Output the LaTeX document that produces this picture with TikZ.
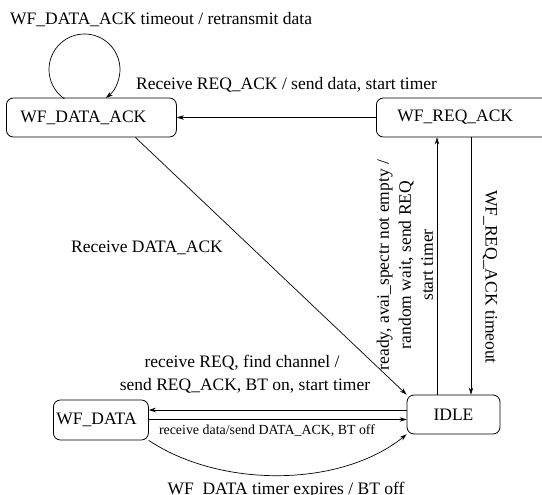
\documentclass[tikz,border=0pt]{standalone}
\usepackage{fontspec}
\setmainfont{Liberation Serif}
\usetikzlibrary{arrows.meta}
\begin{document}
\begin{tikzpicture}[x=1pt,y=-1pt,
  lbl/.style={font=\fontsize{17.5}{22}\selectfont, inner sep=0pt},
  small/.style={font=\fontsize{13.9}{16}\selectfont, inner sep=0pt},
  state/.style={draw, rounded corners=7pt, line width=0.8pt, font=\fontsize{17.5}{22}\selectfont, minimum height=39pt, align=left},
  arr/.style={line width=0.7pt, -{Stealth[length=7pt,width=4.5pt]}},
  ln/.style={line width=0.7pt}]
\useasboundingbox (0,0) rectangle (542,495);
% states
\node[state, anchor=west, text width=142pt, inner xsep=14pt] (dataack) at (6,117.5) {WF\_DATA\_ACK};
\node[state, anchor=west, text width=142pt, inner xsep=21pt] (reqack) at (376,117.5) {WF\_REQ\_ACK};
\node[state, minimum width=93pt, inner xsep=3pt] (idle) at (453.5,414.5) {IDLE};
\node[state, anchor=west, text width=89pt, inner xsep=3pt, minimum height=40pt] (wfdata) at (53,420) {WF\_DATA};
% transitions
\draw[arr] (reqack.west) -- (dataack.east);
\coordinate (lc) at (84.5,69.5);
\draw[arr] (lc) ++(235.6:35.5pt) arc[start angle=235.6, end angle=-53, radius=35.5pt];
\draw[arr] ([xshift=44pt]dataack.south) -- (idle.north west);
\draw[arr] ([xshift=-16.5pt]idle.north) -- ([xshift=-16.5pt]idle.north |- reqack.south);
\draw[arr] ([xshift=17.5pt]idle.north |- reqack.south) -- ([xshift=17.5pt]idle.north);
\draw[arr] ([yshift=4.5pt]idle.west) -- ([yshift=4.5pt]idle.west -| wfdata.east);
\draw[arr] ([yshift=-5pt]idle.west -| wfdata.east) -- ([yshift=-5pt]idle.west);
\draw[arr] (wfdata.south east) .. controls (220,488) and (340,488) .. (idle.south west);
% labels
\node[lbl, anchor=base west] (t1) at (10,25) {WF\_DATA\_ACK timeout / retransmit data};
\node[lbl, anchor=base west] (t2) at (136,90) {Receive REQ\_ACK / send data, start timer};
\node[lbl, anchor=base] (t3) at (147,252) {Receive DATA\_ACK};
\node[lbl, align=center, rotate=90] (t4) at (405,265) {ready, avai\_spectr not empty /\\random wait, send REQ\\start timer};
\node[lbl, rotate=-90] (t5) at (490,277) {WF\_REQ\_ACK timeout};
\node[lbl, anchor=base] (t6) at (242,367) {receive REQ, find channel /};
\node[lbl, anchor=base] (t7) at (245,390) {send REQ\_ACK, BT on, start timer};
\node[small, anchor=base] (t8) at (267,434) {receive data/send DATA\_ACK, BT off};
\node[lbl, anchor=base] (t9) at (286,494) {WF\_DATA timer expires / BT off};
\end{tikzpicture}
\end{document}
